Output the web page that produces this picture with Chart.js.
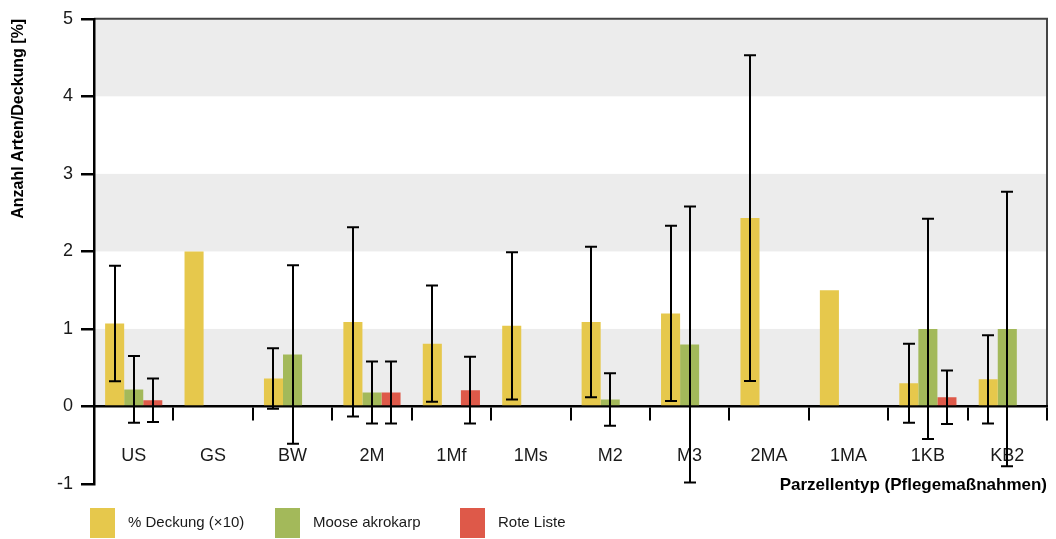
<!DOCTYPE html>
<html lang="de">
<head>
<meta charset="utf-8">
<title>Anzahl Arten/Deckung nach Parzellentyp</title>
<script src="https://cdn.jsdelivr.net/npm/chart.js@4/dist/chart.umd.min.js"></script>
<style>
  html, body { margin: 0; padding: 0; background: #ffffff; }
  #wrap { position: relative; width: 1056px; height: 539px; }
</style>
</head>
<body>
<div id="wrap"><canvas id="chart"></canvas></div>
<script>
// Parzellentypen (Pflegemaßnahmen)
const categories = ['US', 'GS', 'BW', '2M', '1Mf', '1Ms', 'M2', 'M3', '2MA', '1MA', '1KB', 'KB2'];

// Mittelwerte und Standardabweichungen je Parzellentyp
const deckung   = [1.07, 2.0, 0.36, 1.09, 0.81, 1.04, 1.09, 1.20, 2.43, 1.5, 0.30, 0.35];
const deckungSd = [0.745, null, 0.39, 1.22, 0.75, 0.95, 0.97, 1.13, 2.10, null, 0.51, 0.57];
const moose     = [0.22, null, 0.67, 0.18, null, null, 0.09, 0.80, null, null, 1.0, 1.0];
const mooseSd   = [0.43, null, 1.15, 0.40, null, null, 0.34, 1.78, null, null, 1.42, 1.77];
const rote      = [0.08, null, null, 0.18, 0.21, null, null, null, null, null, 0.12, null];
const roteSd    = [0.28, null, null, 0.40, 0.43, null, null, null, null, null, 0.345, null];

// Achsenbereich
const yTicks = [-1, 0, 1, 2, 3, 4, 5];

const FONT = '"Liberation Sans", Arial, Helvetica, sans-serif';
const TEXT = '#1a1a1a';

// Graue Bänder hinter den Balken und Rahmen oben/rechts
const bandPlugin = {
  id: 'bands',
  beforeDraw(chart) {
    const { ctx, chartArea, scales } = chart;
    const y = scales.y;
    ctx.save();
    ctx.fillStyle = '#ececec';
    for (let v = 0; v < yTicks[yTicks.length - 1]; v += 2) {
      const top = y.getPixelForValue(v + 1);
      const bottom = y.getPixelForValue(v);
      ctx.fillRect(chartArea.left, top, chartArea.right - chartArea.left, bottom - top);
    }
    ctx.strokeStyle = '#444444';
    ctx.lineWidth = 2;
    const yTop = y.getPixelForValue(yTicks[yTicks.length - 1]);
    const yZero = y.getPixelForValue(0);
    ctx.beginPath();
    ctx.moveTo(chartArea.left, yTop);
    ctx.lineTo(chartArea.right, yTop);
    ctx.lineTo(chartArea.right, yZero);
    ctx.stroke();
    ctx.restore();
  }
};

// Fehlerbalken (± Standardabweichung)
const errorBarPlugin = {
  id: 'errorBars',
  afterDatasetsDraw(chart) {
    const { ctx, scales } = chart;
    const y = scales.y;
    ctx.save();
    ctx.strokeStyle = '#000000';
    ctx.lineWidth = 2;
    chart.data.datasets.forEach((ds, di) => {
      const meta = chart.getDatasetMeta(di);
      ds.sd.forEach((sd, i) => {
        const v = ds.data[i];
        if (sd == null || v == null) return;
        const bar = meta.data[i];
        const x = Math.round(bar.x);
        const yHi = y.getPixelForValue(v + sd);
        const yLo = y.getPixelForValue(v - sd);
        const cap = 6;
        ctx.beginPath();
        ctx.moveTo(x, yHi); ctx.lineTo(x, yLo);
        ctx.moveTo(x - cap, yHi); ctx.lineTo(x + cap, yHi);
        ctx.moveTo(x - cap, yLo); ctx.lineTo(x + cap, yLo);
        ctx.stroke();
      });
    });
    ctx.restore();
  }
};

// Legende unterhalb des Diagramms
const legendPlugin = {
  id: 'bottomLegend',
  afterDraw(chart) {
    const { ctx } = chart;
    ctx.save();
    ctx.font = '15px ' + FONT;
    ctx.textBaseline = 'middle';
    ctx.textAlign = 'left';
    chart.data.datasets.forEach((ds, i) => {
      const x = 90 + i * 185;
      ctx.fillStyle = ds.backgroundColor;
      ctx.fillRect(x, 508, 25, 30);
      ctx.fillStyle = TEXT;
      ctx.fillText(ds.label, x + 38, 523);
    });
    ctx.restore();
  }
};

new Chart(document.getElementById('chart'), {
  type: 'bar',
  data: {
    labels: categories,
    datasets: [
      { label: '% Deckung (×10)', data: deckung, sd: deckungSd, backgroundColor: '#e6c84c' },
      { label: 'Moose akrokarp', data: moose, sd: mooseSd, backgroundColor: '#a3b95a' },
      { label: 'Rote Liste', data: rote, sd: roteSd, backgroundColor: '#de5949' }
    ]
  },
  options: {
    responsive: true,
    maintainAspectRatio: false,
    animation: false,
    layout: { padding: { top: 16, right: 9, bottom: 55, left: 0 } },
    datasets: { bar: { categoryPercentage: 0.72, barPercentage: 1.0 } },
    plugins: {
      legend: { display: false },
      tooltip: { enabled: false }
    },
    scales: {
      x: {
        type: 'category',
        position: { y: 0 },
        offset: true,
        z: 1,
        grid: {
          offset: true,
          drawOnChartArea: false,
          drawTicks: true,
          tickLength: 13,
          color: '#000000',
          lineWidth: 2
        },
        border: { display: true, color: '#000000', width: 2.5 },
        ticks: {
          padding: 26,
          color: TEXT,
          font: { family: FONT, size: 18 },
          maxRotation: 0,
          autoSkip: false
        },
        title: {
          display: true,
          text: 'Parzellentyp (Pflegemaßnahmen)',
          align: 'end',
          color: '#000000',
          font: { family: FONT, size: 17, weight: 'bold' },
          padding: { top: -18, bottom: 0 }
        }
      },
      y: {
        min: yTicks[0],
        max: yTicks[yTicks.length - 1],
        afterFit(scale) { scale.width = 94; },
        afterBuildTicks(scale) { scale.ticks = yTicks.map(v => ({ value: v })); },
        grid: {
          drawOnChartArea: false,
          drawTicks: true,
          tickLength: 13,
          color: '#000000',
          lineWidth: 2.5
        },
        border: { display: true, color: '#000000', width: 2.5 },
        ticks: {
          padding: 8,
          color: TEXT,
          font: { family: FONT, size: 18 }
        },
        title: {
          display: true,
          text: 'Anzahl Arten/Deckung [%]',
          align: 'end',
          color: '#000000',
          font: { family: FONT, size: 16, weight: 'bold' },
          padding: { top: 9, bottom: 0 }
        }
      }
    }
  },
  plugins: [bandPlugin, errorBarPlugin, legendPlugin]
});
</script>
</body>
</html>
